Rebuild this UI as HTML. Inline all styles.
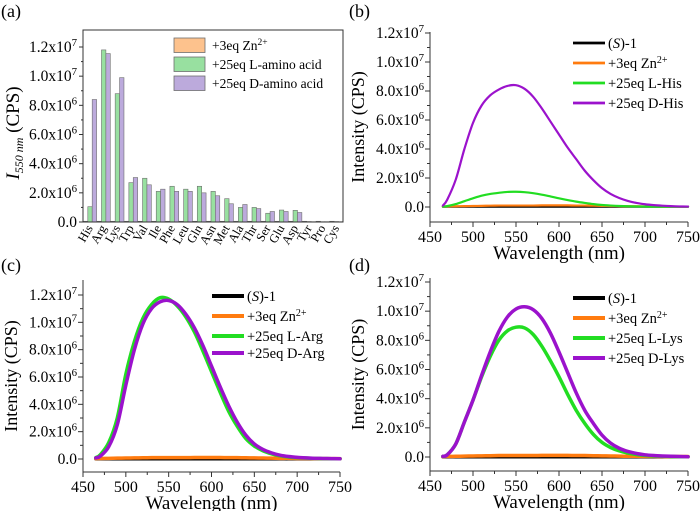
<!DOCTYPE html>
<html><head><meta charset="utf-8"><style>
html,body{margin:0;padding:0;background:#fff;}
svg{display:block;font-family:"Liberation Serif",serif;}
svg text{font-family:"Liberation Serif",serif;}
</style></head><body>
<svg id="fig" width="700" height="511" viewBox="0 0 700 511" xmlns="http://www.w3.org/2000/svg" font-family="Liberation Serif, serif"></svg>
<script>
// ---------- Panel (a) data ----------
const aminoAcids = ["His","Arg","Lys","Trp","Val","Ile","Phe","Leu","Gln","Asn","Met","Ala","Thr","Ser","Glu","Asp","Tyr","Pro","Cys"];
const znValues = [0.05,0.05,0.05,0.05,0.05,0.05,0.05,0.05,0.05,0.05,0.05,0.05,0.05,0.05,0.05,0.05,0.05,0.05,0.05];
const lValues = [1.05,11.8,8.8,2.7,3.0,2.1,2.45,2.25,2.45,2.1,1.6,1.0,1.0,0.6,0.82,0.8,0.03,0.02,0.03];
const dValues = [8.4,11.55,9.9,3.05,2.55,2.25,2.1,2.1,2.0,1.8,1.25,1.2,0.92,0.72,0.72,0.65,0.02,0.02,0.02];
const yTicksA = [0,2,4,6,8,10,12];
const yTickLabelsA = ["0.0","2.0x10^6","4.0x10^6","6.0x10^6","8.0x10^6","1.0x10^7","1.2x10^7"];
// ---------- Spectra data (values in 1e6 CPS) ----------
const wavelengths = [465,470,480,490,500,510,520,530,540,550,560,570,580,590,600,610,620,630,640,650,660,670,680,690,700,710,720,730,740,750];
const baseS1 = [0.02,0.02,0.02,0.02,0.02,0.02,0.02,0.02,0.02,0.02,0.02,0.02,0.02,0.02,0.02,0.02,0.02,0.02,0.02,0.02,0.02,0.02,0.02,0.02,0.02,0.02,0.02,0.02,0.02,0.02];
const baseZn = [0.03,0.04,0.05,0.06,0.07,0.08,0.09,0.1,0.1,0.1,0.1,0.1,0.11,0.11,0.11,0.11,0.1,0.1,0.09,0.08,0.07,0.06,0.05,0.05,0.04,0.04,0.03,0.03,0.03,0.03];
const lHis = [0.03,0.06,0.2,0.4,0.6,0.78,0.9,0.98,1.04,1.05,1.02,0.95,0.85,0.73,0.6,0.48,0.37,0.28,0.2,0.14,0.1,0.07,0.05,0.04,0.03,0.02,0.02,0.02,0.02,0.02];
const dHis = [0.1,0.5,1.9,4.0,5.8,7.0,7.7,8.1,8.35,8.4,8.15,7.6,6.8,5.9,5.0,4.1,3.3,2.5,1.85,1.3,0.9,0.62,0.42,0.28,0.19,0.13,0.09,0.06,0.04,0.03];
const lArg = [0.1,0.3,1.2,3.0,6.2,8.6,10.3,11.3,11.8,11.7,11.2,10.4,9.3,7.9,6.4,4.9,3.5,2.4,1.5,0.95,0.6,0.38,0.24,0.15,0.1,0.07,0.05,0.03,0.02,0.02];
const dArg = [0.08,0.2,0.9,2.5,5.4,8.0,9.9,11.0,11.5,11.6,11.3,10.6,9.6,8.3,6.8,5.3,3.9,2.7,1.75,1.1,0.7,0.45,0.28,0.18,0.12,0.08,0.05,0.04,0.03,0.02];
const lLys = [0.05,0.15,0.9,2.4,3.9,5.5,6.9,8.0,8.65,8.9,8.85,8.4,7.6,6.6,5.5,4.3,3.2,2.3,1.55,1.0,0.65,0.42,0.27,0.17,0.11,0.07,0.05,0.03,0.02,0.02];
const dLys = [0.05,0.15,0.9,2.4,3.9,5.6,7.2,8.6,9.6,10.15,10.3,10.1,9.5,8.5,7.2,5.8,4.4,3.2,2.3,1.5,0.95,0.6,0.38,0.24,0.15,0.1,0.07,0.05,0.03,0.02];
const xTicks = [450,500,550,600,650,700,750];
const yTicks = [0,2,4,6,8,10,12];

const NS = "http://www.w3.org/2000/svg";
const svg = document.getElementById("fig");
function mk(tag, attrs, parent){
  const e = document.createElementNS(NS, tag);
  for (const k in attrs) e.setAttribute(k, attrs[k]);
  (parent||svg).appendChild(e);
  return e;
}
function sciLabel(parent, x, y, label, anchor, size){
  const t = mk("text",{x:x,y:y,"text-anchor":anchor,"font-size":size}, parent);
  const p = label.split("^");
  t.appendChild(document.createTextNode(p[0]));
  if (p[1]){
    const s = mk("tspan",{dy:-6,"font-size":size*0.7}, t);
    s.textContent = p[1];
  }
  return t;
}
function smoothPath(pts){
  let d = "M" + pts[0][0].toFixed(2) + "," + pts[0][1].toFixed(2);
  for (let i=0;i<pts.length-1;i++){
    const p0 = pts[Math.max(i-1,0)], p1 = pts[i], p2 = pts[i+1], p3 = pts[Math.min(i+2,pts.length-1)];
    const c1x = p1[0] + (p2[0]-p0[0])/6, c1y = p1[1] + (p2[1]-p0[1])/6;
    const c2x = p2[0] - (p3[0]-p1[0])/6, c2y = p2[1] - (p3[1]-p1[1])/6;
    d += " C" + c1x.toFixed(2)+","+c1y.toFixed(2)+" "+c2x.toFixed(2)+","+c2y.toFixed(2)+" "+p2[0].toFixed(2)+","+p2[1].toFixed(2);
  }
  return d;
}

// Panel labels
[["(a)",1,17],["(b)",349,17],["(c)",1,271],["(d)",349,271]].forEach(function(p){
  const t = mk("text",{x:p[1],y:p[2],"font-size":18});
  
  
  t.textContent = p[0];
});

// ---------- Panel (a) ----------
(function(){
  const g = mk("g",{});
  
  
  const L=83, R=343, T=30, B=222, y0=222, y12=47;
  const ys = v => y0 - v*(y0-y12)/12;
  const gw = (R-L)/aminoAcids.length, bw = 4.4;
  aminoAcids.forEach(function(name,i){
    const gx = L + i*gw + 0.4;
    [[znValues,"#fdc28d"],[lValues,"#98e0a0"],[dValues,"#bcaadc"]].forEach(function(s,k){
      const v = s[0][i];
      const r = mk("rect",{x:gx+k*bw, y:ys(v), width:bw, height:y0-ys(v), fill:s[1], stroke:"#6f6f6f","stroke-width":0.6}, g);
      
      
    });
    const cx = gx + gw/2;
    const t = mk("text",{x:cx+3, y:B+6, "font-size":12.5, "text-anchor":"end", transform:"rotate(-60 "+(cx+3)+" "+(B+6)+")"}, g);
    
    
    t.textContent = name;
  });
  const fr = mk("rect",{x:L,y:T,width:R-L,height:B-T,fill:"none",stroke:"#333","stroke-width":1}, g);
  
  
  yTicksA.forEach(function(v,i){
    const y = ys(v);
    mk("line",{x1:L-4,x2:L,y1:y,y2:y,stroke:"#333"}, g);
    if (i<yTicksA.length-1) mk("line",{x1:L-2,x2:L,y1:ys(v+1),y2:ys(v+1),stroke:"#333"}, g);
    const t = sciLabel(g, L-6, y+5, yTickLabelsA[i], "end", 15.5);
    
    
  });
  const yt = mk("text",{x:0,y:0,"font-size":19,"text-anchor":"middle",transform:"translate(19 133) rotate(-90)"}, g);
  
  
  const ti = mk("tspan",{"font-style":"italic"}, yt); ti.textContent = "I";
  const sb = mk("tspan",{"font-style":"italic","font-size":12,dy:4}, yt); sb.textContent = "550 nm";
  const rest = mk("tspan",{dy:-4}, yt); rest.textContent = " (CPS)";
  [["#fdc28d","+3eq Zn","2+"],["#98e0a0","+25eq L-amino acid",""],["#bcaadc","+25eq D-amino acid",""]].forEach(function(e,i){
    const y = 38 + i*19;
    const r = mk("rect",{x:174,y:y,width:31,height:14.5,fill:e[0],stroke:"#6f6f6f","stroke-width":0.8}, g);
    
    
    const t = mk("text",{x:212,y:y+12,"font-size":13.5}, g);
    
    
    t.appendChild(document.createTextNode(e[1]));
    if (e[2]){ const s = mk("tspan",{dy:-5,"font-size":9.5}, t); s.textContent = e[2]; }
  });
})();

// ---------- Spectrum panels ----------
function spectrumPanel(cfg){
  const g = mk("g",{});
  
  
  const xs = w => cfg.L + (w-450)*(cfg.R-cfg.L)/300;
  const ys = v => cfg.y0 - v*(cfg.y0-cfg.y12)/12;
  cfg.series.forEach(function(s){
    const pts = wavelengths.map((w,i)=> [xs(w), ys(s.values[i])]);
    const pl = mk("path",{d:smoothPath(pts),fill:"none",stroke:s.color,"stroke-width":cfg.lw,"stroke-linejoin":"round","stroke-linecap":"round"}, g);
    
    
  });
  const ax = mk("line",{x1:cfg.L,x2:cfg.R,y1:cfg.B,y2:cfg.B,stroke:"#333"}, g);
  
  
  const ay = mk("line",{x1:cfg.L,x2:cfg.L,y1:cfg.T,y2:cfg.B,stroke:"#333"}, g);
  
  
  xTicks.forEach(function(w,i){
    const x = xs(w);
    mk("line",{x1:x,x2:x,y1:cfg.B,y2:cfg.B+5,stroke:"#333"}, g);
    if (i<xTicks.length-1) mk("line",{x1:xs(w+25),x2:xs(w+25),y1:cfg.B,y2:cfg.B+3,stroke:"#333"}, g);
    const t = mk("text",{x:x,y:cfg.B+20,"font-size":16,"text-anchor":"middle"}, g);
    
    
    t.textContent = w;
  });
  yTicks.forEach(function(v,i){
    const y = ys(v);
    mk("line",{x1:cfg.L-5,x2:cfg.L,y1:y,y2:y,stroke:"#333"}, g);
    if (i<yTicks.length-1) mk("line",{x1:cfg.L-3,x2:cfg.L,y1:ys(v+1),y2:ys(v+1),stroke:"#333"}, g);
    const t = sciLabel(g, cfg.L-6, y+5, yTickLabelsA[i], "end", 15.5);
    
    
  });
  const xt = mk("text",{x:(cfg.L+cfg.R)/2,y:cfg.B+37,"font-size":19,"text-anchor":"middle"}, g);
  
  
  xt.textContent = "Wavelength (nm)";
  const yt = mk("text",{x:0,y:0,"font-size":18,"text-anchor":"middle",transform:"translate("+(cfg.L-66)+" "+((cfg.T+cfg.B)/2)+") rotate(-90)"}, g);
  
  
  yt.textContent = "Intensity (CPS)";
  cfg.series.forEach(function(s,i){
    const y = cfg.legY[i];
    const ln = mk("line",{x1:cfg.legX,x2:cfg.legX+32,y1:y,y2:y,stroke:s.color,"stroke-width":cfg.lw+0.5}, g);
    
    
    const t = mk("text",{x:cfg.legX+35,y:y+5,"font-size":14.5}, g);
    
    
    if (s.key==="s1"){
      t.appendChild(document.createTextNode("("));
      const it = mk("tspan",{"font-style":"italic"}, t); it.textContent = "S";
      t.appendChild(document.createTextNode(")-1"));
    } else if (s.key==="zn"){
      t.appendChild(document.createTextNode("+3eq Zn"));
      const sp = mk("tspan",{dy:-5,"font-size":10}, t); sp.textContent = "2+";
    } else {
      t.textContent = s.label;
    }
  });
}
const BLACK="#000", ORANGE="#ff7b0f", GREEN="#22dd22", PURPLE="#9b12cc";
spectrumPanel({name:"spectrum-panel-b",L:430,R:688,T:32,B:222,y0:207,y12:33,lw:2.2,legX:573,legY:[43,63,83,103],
  series:[{key:"s1",color:BLACK,values:baseS1},{key:"zn",color:ORANGE,values:baseZn},{key:"l",color:GREEN,values:lHis,label:"+25eq L-His"},{key:"d",color:PURPLE,values:dHis,label:"+25eq D-His"}]});
spectrumPanel({name:"spectrum-panel-c",L:83,R:340,T:280,B:472,y0:459,y12:295,lw:3.5,legX:212,legY:[296,316,336,353],
  series:[{key:"s1",color:BLACK,values:baseS1},{key:"zn",color:ORANGE,values:baseZn},{key:"l",color:GREEN,values:lArg,label:"+25eq L-Arg"},{key:"d",color:PURPLE,values:dArg,label:"+25eq D-Arg"}]});
spectrumPanel({name:"spectrum-panel-d",L:430,R:688,T:278,B:471,y0:457,y12:282,lw:3.5,legX:573,legY:[298,318,338,358],
  series:[{key:"s1",color:BLACK,values:baseS1},{key:"zn",color:ORANGE,values:baseZn},{key:"l",color:GREEN,values:lLys,label:"+25eq L-Lys"},{key:"d",color:PURPLE,values:dLys,label:"+25eq D-Lys"}]});
</script>
</body></html>
